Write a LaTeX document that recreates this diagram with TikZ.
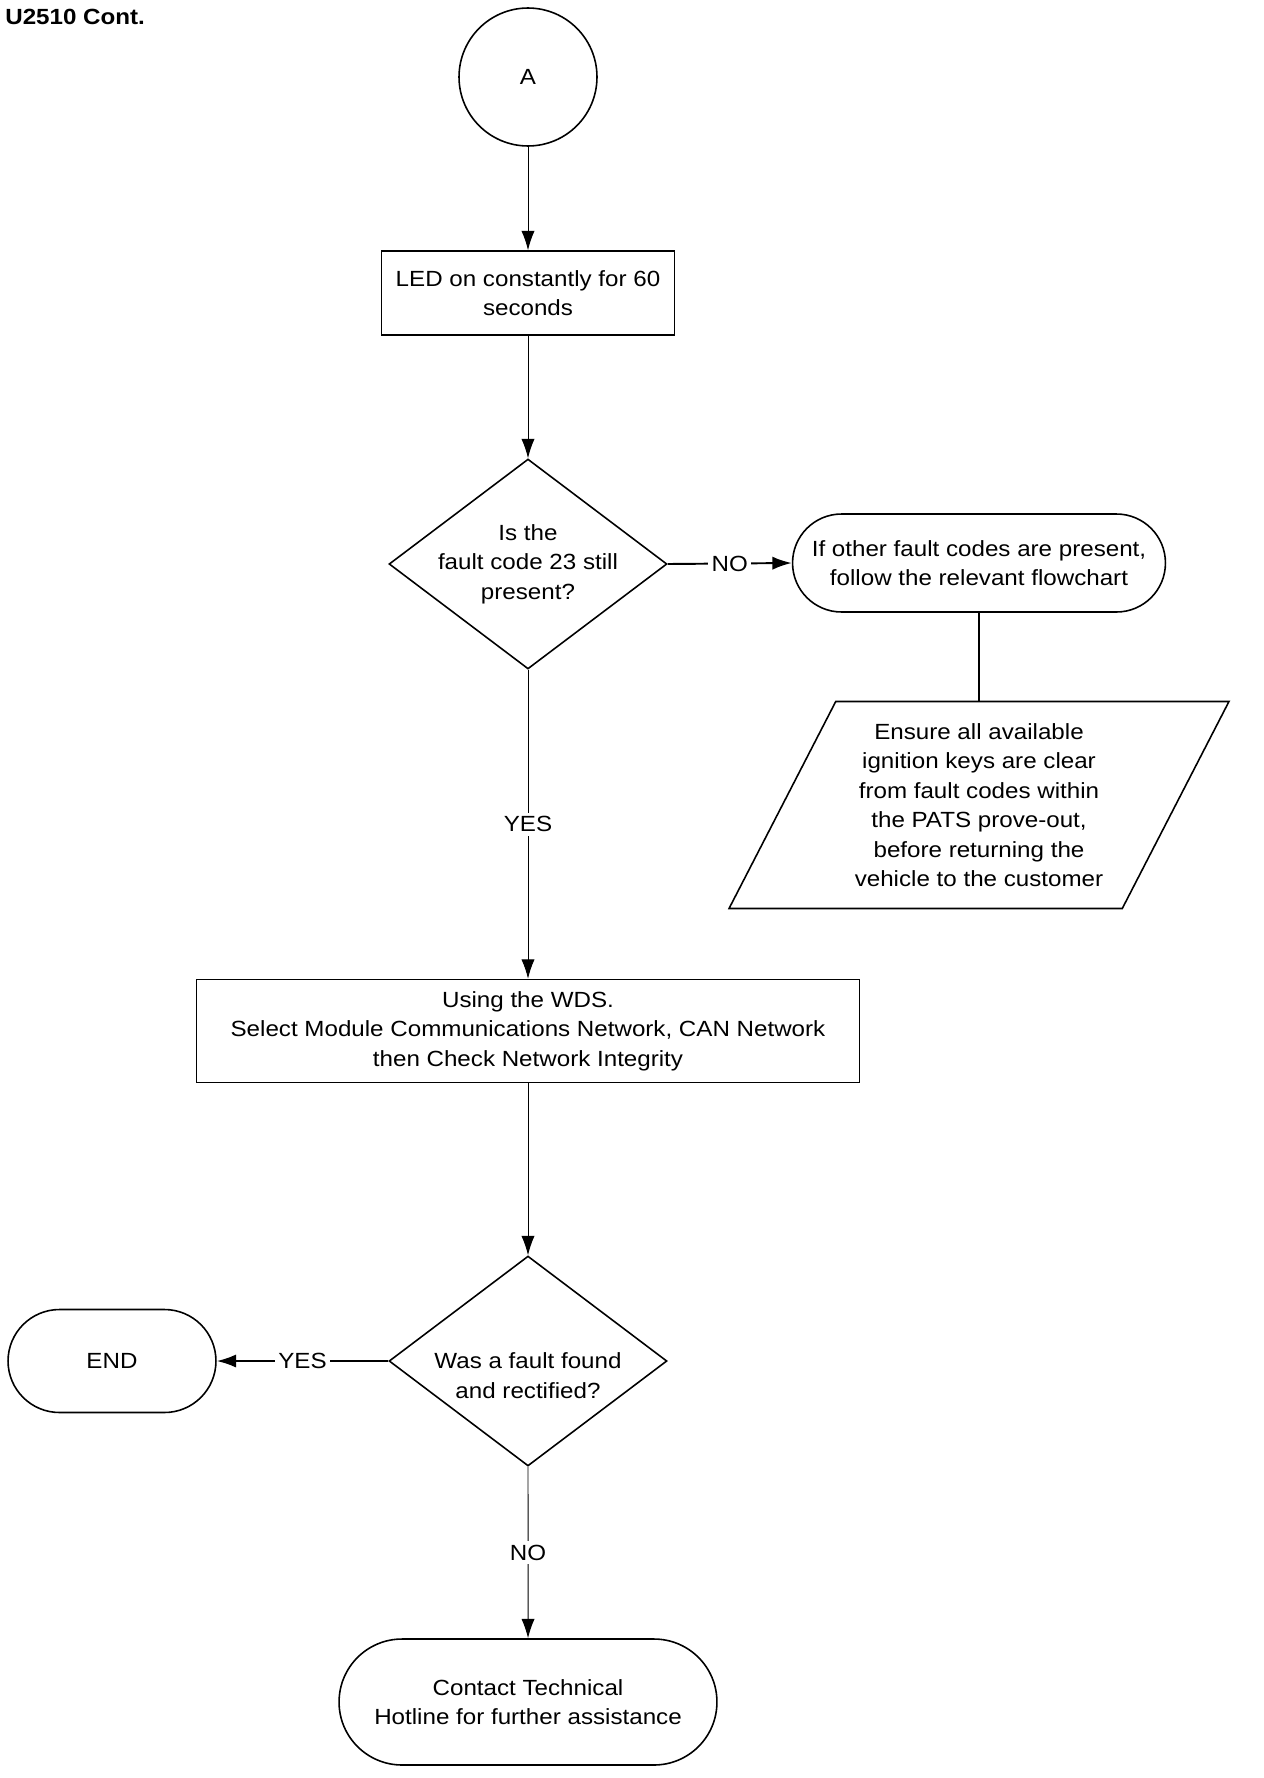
\documentclass[tikz,border=0pt]{standalone}
\usepackage{fontspec}
\setmainfont{Liberation Sans}[FakeStretch=1.1]
\usetikzlibrary{shapes.geometric,shapes.misc,arrows.meta}

\begin{document}
\begin{tikzpicture}[
        x=0.02cm, y=-0.02cm,
        font=\fontsize{12.5}{16.8}\selectfont,
        shape border/.style={draw,line width=0.9pt,align=center,inner sep=2pt},
        procbox/.style={shape border,rectangle},
        decision/.style={shape border,diamond,aspect=1.32,minimum width=5.56cm,minimum height=4.2cm,inner sep=-4pt},
        terminal/.style={shape border,rounded rectangle},
        vline/.style={line width=0.55pt},
        hline/.style={line width=1.1pt},
        tip/.style={-{Latex[length=11pt,width=7.5pt]}},
        lbl/.style={fill=white,inner sep=2pt}
    ]
    \useasboundingbox (0,0) rectangle (1264,1778);

    \node[anchor=base west,inner sep=0pt,font=\fontsize{12.5}{15}\selectfont\bfseries] (title) at (5,25) {U2510 Cont.};

    \node[shape border,circle,minimum size=2.76cm] (conn) at (528,77) {A};
    \node[procbox,minimum width=5.86cm,minimum height=1.68cm] (led) at (528,293) {LED on constantly for 60\\seconds};
    \node[decision] (still) at (528,564) {Is the\\fault code 23 still\\present?};
    \node[terminal,minimum width=7.6cm,minimum height=1.96cm] (other) at (979,563) {If other fault codes are present,\\follow the relevant flowchart};
    \node[shape border,trapezium,trapezium left angle=58,trapezium right angle=122,
          trapezium stretches body,minimum width=10cm,minimum height=4.14cm] (ensure) at (979,805)
        {Ensure all available\\ignition keys are clear\\from fault codes within\\the PATS prove-out,\\before returning the\\vehicle to the customer};
    \node[procbox,minimum width=13.26cm,minimum height=2.06cm] (wds) at (528,1031)
        {Using the WDS.\\Select Module Communications Network, CAN Network\\then Check Network Integrity};
    \node[decision] (found) at (528,1361) {\mbox{}\\[9pt]Was a fault found\\and rectified?};
    \node[terminal,minimum width=4.3cm,minimum height=2.06cm] (end) at (112,1361) {END};
    \node[terminal,minimum width=7.7cm,minimum height=2.52cm] (hotline) at (528,1702) {Contact Technical\\Hotline for further assistance};

    % main line
    \draw[vline,tip] (conn) -- (led);
    \draw[vline,tip] (led) -- (still);
    \draw[vline,tip] (still) -- node[lbl]{YES} (wds);
    \draw[vline,tip] (wds) -- (found);
    \draw[vline,tip] (found) -- node[lbl]{NO} (hotline);

    % side branches
    \draw[hline,tip] (still.east) -- node[lbl]{NO} (other.west);
    \draw[hline] (other.south) -- (other.south |- ensure.north);
    \draw[hline,tip] (found.west) -- node[lbl]{YES} (end.east);
\end{tikzpicture}
\end{document}
